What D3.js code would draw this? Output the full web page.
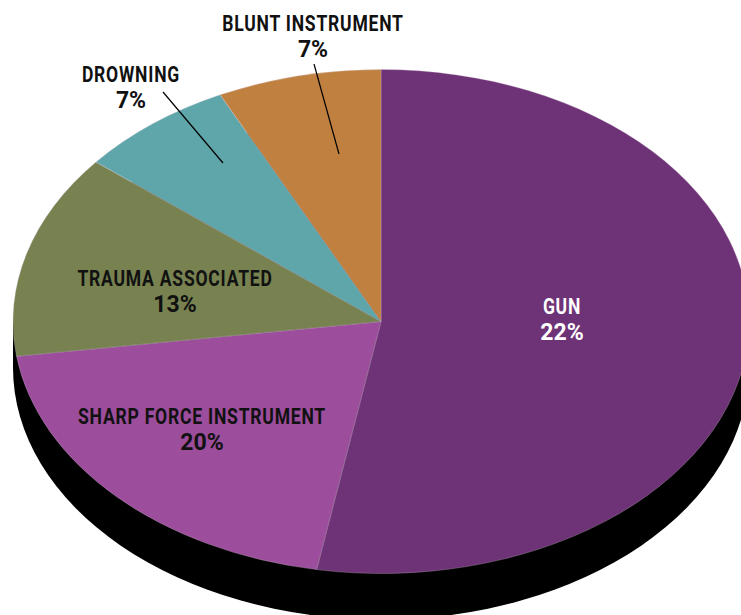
<!DOCTYPE html>
<html><head><meta charset="utf-8">
<style>html,body{margin:0;padding:0;background:#fff;overflow:hidden}svg{display:block}
text{font-family:Roboto,"Liberation Sans",sans-serif;font-weight:700;text-anchor:middle}
.name{font-size:22.5px;letter-spacing:1px}.pct{font-size:23px;letter-spacing:0}</style>
<script src="https://cdnjs.cloudflare.com/ajax/libs/d3/7.8.5/d3.min.js"></script>
</head><body><svg id="c" width="741" height="615"></svg>
<script>
const categories=["GUN","SHARP FORCE INSTRUMENT","TRAUMA ASSOCIATED","DROWNING","BLUNT INSTRUMENT"];
const sliceValues=[52.8,20.0,13.1,6.9,7.2];
const printedLabels=["22%","20%","13%","7%","7%"];
const colors=["#6e3276","#9c4d9b","#778250","#5fa6ab","#c08140"];
const textColors=["#fff","#111","#111","#111","#111"];
const labelPos=[[562,306],[202,416],[175,278],[131,74],[313,23]];
const leaders=[null,null,null,[[163,92],[223,163]],[[314,64],[339,154]]];
const cx=381,cy=321.5,rx=368,ry=252,depth=46;
const svg=d3.select("#c");
const arc=d3.arc().innerRadius(0).outerRadius(rx);
const pie=d3.pie().sort(null).value(d=>d);
const tilt=`translate(${cx},${cy}) scale(1,${ry/rx})`;
const side=`translate(${cx},${cy+depth}) scale(1,${ry/rx})`;
svg.append("rect").attr("x",cx-rx).attr("y",cy).attr("width",2*rx).attr("height",depth).attr("fill","#000");
svg.append("circle").attr("r",rx).attr("transform",side).attr("fill","#000");
svg.append("g").attr("transform",tilt).selectAll("path").data(pie(sliceValues)).join("path")
 .attr("d",arc).attr("fill",(d,i)=>colors[i]).attr("stroke","#d9c9d9").attr("stroke-width",.35);
categories.forEach((c,i)=>{
 const g=svg.append("g").attr("fill",textColors[i]);
 g.append("text").attr("class","name").attr("transform",`translate(${labelPos[i][0]},${labelPos[i][1]+7.5}) scale(.78,1)`).text(c);
 g.append("text").attr("class","pct").attr("transform",`translate(${labelPos[i][0]},${labelPos[i][1]+33.5})`).text(printedLabels[i]);
 if(leaders[i]) svg.append("path").attr("d",d3.line()(leaders[i])).attr("stroke","#000").attr("stroke-width",1.2).attr("fill","none");
});
</script></body></html>
